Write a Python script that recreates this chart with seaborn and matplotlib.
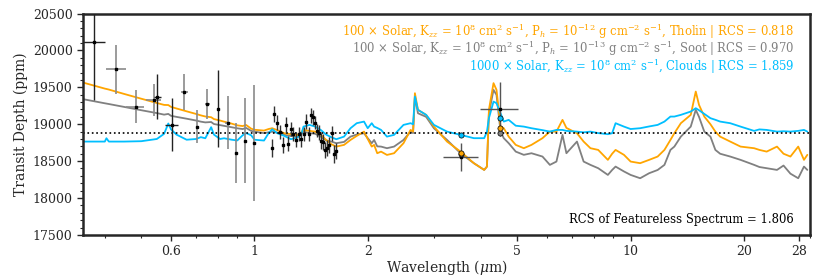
import numpy as np
import matplotlib
matplotlib.use("Agg")
import matplotlib.pyplot as plt
import matplotlib.ticker as mticker
import seaborn as sns

# model spectra (wavelength in micron, transit depth in ppm)
wave = [0.35, 0.40, 0.404, 0.41, 0.45, 0.50, 0.55, 0.575, 0.59, 0.60, 0.62, 0.66, 0.70, 0.72, 0.74,
        0.767, 0.78, 0.81, 0.83, 0.87, 0.90, 0.93, 0.95, 0.98, 1.00, 1.06, 1.09, 1.114, 1.15, 1.20,
        1.25, 1.30, 1.33, 1.35, 1.40, 1.45, 1.50, 1.55, 1.60, 1.65, 1.73, 1.80, 1.87, 1.955, 2.00,
        2.05, 2.08, 2.12, 2.17, 2.25, 2.35, 2.49, 2.60, 2.64, 2.67, 2.72, 2.86, 3.00, 3.25, 3.53,
        3.83, 4.08, 4.15, 4.20, 4.32, 4.40, 4.51, 4.60, 4.74, 4.95, 5.20, 5.45, 5.83, 6.10, 6.35,
        6.59, 6.75, 7.20, 7.50, 7.82, 8.20, 8.70, 8.93, 9.12, 9.60, 10.0, 10.6, 11.2, 11.8, 12.3,
        12.76, 13.07, 13.6, 14.45, 14.9, 15.2, 15.7, 16.3, 16.8, 17.3, 18.4, 19.6, 21.3, 22.0, 23.0,
        24.5, 25.5, 26.6, 27.9, 28.9, 29.5]
tholin = [19565, 19483, 19478, 19470, 19411, 19346, 19288, 19262, 19260, 19235, 19214, 19175, 19139, 19120, 19105,
          19095, 19070, 19050, 19035, 19008, 18985, 18975, 18990, 18940, 18925, 18914, 18935, 18946, 18920, 18878,
          18865, 18856, 18890, 18923, 18910, 18900, 18856, 18790, 18730, 18697, 18720, 18787, 18842, 18900, 18800,
          18697, 18720, 18607, 18629, 18584, 18607, 18743, 18923, 18900, 19421, 19195, 19127, 18968, 18765, 18629,
          18472, 18381, 18426, 19195, 19557, 19466, 18968, 18946, 18832, 18720, 18675, 18720, 18811, 18900, 18900,
          19059, 18950, 18878, 18765, 18675, 18652, 18517, 18600, 18652, 18585, 18494, 18472, 18517, 18562, 18652,
          18787, 18878, 19014, 19127, 19443, 19262, 19104, 19000, 18900, 18832, 18765, 18697, 18675, 18652, 18629,
          18697, 18600, 18562, 18697, 18517, 18585]
soot = [19340, 19284, 19280, 19274, 19235, 19190, 19151, 19130, 19140, 19114, 19100, 19075, 19050, 19035, 19025,
        19030, 19003, 18988, 18978, 18959, 18945, 18935, 18950, 18910, 18900, 18880, 18890, 18900, 18885, 18856,
        18840, 18833, 18870, 18900, 18880, 18870, 18833, 18780, 18765, 18743, 18760, 18832, 18860, 18878, 18811,
        18743, 18787, 18700, 18697, 18675, 18697, 18787, 18900, 18880, 19375, 19149, 19100, 18945, 18787, 18607,
        18472, 18381, 18426, 19149, 19466, 19398, 18900, 18811, 18743, 18629, 18585, 18607, 18562, 18449, 18494,
        18856, 18607, 18765, 18494, 18449, 18404, 18313, 18380, 18426, 18360, 18313, 18268, 18336, 18380, 18449,
        18652, 18697, 18832, 18968, 19195, 19100, 18900, 18832, 18652, 18600, 18562, 18517, 18449, 18420, 18404,
        18381, 18440, 18330, 18268, 18426, 18381]
clouds = [18765, 18765, 18810, 18765, 18765, 18770, 18800, 18870, 19010, 18930, 18860, 18790, 18800, 18825, 18810,
          18960, 18860, 18800, 18810, 18790, 18780, 18850, 18880, 18850, 18790, 18779, 18878, 18932, 18878, 18842,
          18797, 18820, 18856, 18968, 18991, 18968, 18923, 18860, 18824, 18797, 18832, 18946, 19014, 19036, 18946,
          19014, 18968, 18950, 18923, 18832, 18856, 18991, 19014, 19000, 19375, 19195, 19127, 18991, 18900, 18856,
          18811, 18811, 18900, 19082, 19307, 19285, 19149, 19036, 19059, 18980, 18968, 18946, 18920, 18900, 18923,
          18923, 18910, 18900, 18890, 18900, 18880, 18865, 18878, 19014, 18968, 18935, 18946, 18970, 18991, 19036,
          19104, 19104, 19127, 19172, 19217, 19190, 19140, 19082, 19060, 19036, 19014, 18968, 18910, 18930, 18923,
          18900, 18905, 18900, 18910, 18923, 18900]
flat_depth = 18880

# observed points: black error bars
obs_k_wave = [0.375, 0.552, 0.603, 0.799]
obs_k_depth = [20112, 19375, 18991, 19212]
obs_k_yerr = [790, 305, 360, 525]
obs_k_xerr = [0.025, 0.012, 0.025, 0.0]

# observed points: grey error bars
obs_g_wave = [0.429, 0.483, 0.539, 0.651, 0.702, 0.750, 0.848, 0.894, 0.944, 0.994]
obs_g_depth = [19746, 19239, 19330, 19439, 18964, 19272, 19023, 18608, 18774, 18743]
obs_g_yerr = [330, 225, 215, 245, 225, 205, 355, 405, 575, 790]
obs_g_xerr = [0.027, 0.027, 0.025, 0.014, 0.0, 0.012, 0.012, 0.0, 0.0, 0.0]

# dense near-IR points
nir_wave = [1.112, 1.130, 1.149, 1.167, 1.189, 1.211, 1.229, 1.247, 1.268, 1.290, 1.314, 1.330, 1.353, 1.370,
            1.392, 1.412, 1.430, 1.451, 1.468, 1.483, 1.503, 1.522, 1.541, 1.560, 1.578, 1.604, 1.625, 1.652]
nir_depth = [18676, 19140, 19023, 18893, 18720, 18987, 18734, 18937, 18869, 18788, 18869, 18797, 18869, 19032,
             18869, 19122, 19095, 19023, 18914, 18887, 18774, 18760, 18652, 18683, 18716, 18878, 18598, 18639]
nir_yerr = [120, 110, 100, 90, 110, 110, 100, 100, 90, 100, 100, 100, 90, 100,
            90, 100, 100, 90, 90, 100, 110, 110, 110, 110, 110, 100, 120, 110]

# Spitzer photometry
irac_wave = [3.55, 4.49]
irac_depth = [18562, 19208]
irac_yerr = [190, 370]
irac_xerr = [[0.38, 0.52], [0.37, 0.52]]

# binned models at the Spitzer bands
bin_tholin = [18616, 18955]
bin_soot = [18590, 18887]
bin_clouds = [18856, 19082]

c_tholin = "#FFA500"
c_soot = "#808080"
c_clouds = "#00BFFF"

sns.set_style("ticks")
plt.rcParams["font.family"] = ["DejaVu Serif"]
plt.rcParams["mathtext.fontset"] = "dejavuserif"

fig, ax = plt.subplots(figsize=(8.3, 2.77), dpi=100)
fig.subplots_adjust(left=0.1, right=0.976, top=0.951, bottom=0.152)

sns.lineplot(x=wave, y=soot, color=c_soot, lw=1.3, ax=ax, sort=False)
sns.lineplot(x=wave, y=tholin, color=c_tholin, lw=1.3, ax=ax, sort=False)
sns.lineplot(x=wave, y=clouds, color=c_clouds, lw=1.3, ax=ax, sort=False)
ax.axhline(flat_depth, color="k", ls=":", lw=1.2)

ax.errorbar(obs_g_wave, obs_g_depth, yerr=obs_g_yerr, xerr=obs_g_xerr, fmt="s", ms=1.8,
            color="k", ecolor="#8a8a8a", elinewidth=1.2, capsize=0, zorder=5)
ax.errorbar(obs_k_wave, obs_k_depth, yerr=obs_k_yerr, xerr=obs_k_xerr, fmt="s", ms=1.8,
            color="k", ecolor="#222222", elinewidth=1.0, capsize=0, zorder=5)
ax.errorbar(nir_wave, nir_depth, yerr=nir_yerr, fmt="s", ms=1.8,
            color="k", ecolor="#333333", elinewidth=1.0, capsize=0, zorder=5)
ax.errorbar(irac_wave, irac_depth, yerr=irac_yerr, xerr=irac_xerr, fmt="s", ms=1.8,
            color="k", ecolor="#555555", elinewidth=1.0, capsize=0, zorder=5)

for vals, col in [(bin_soot, c_soot), (bin_tholin, c_tholin), (bin_clouds, c_clouds)]:
    ax.scatter(irac_wave, vals, s=14, color=col, edgecolor="k", lw=0.5, zorder=6)

ax.set_xscale("log")
ax.set_xlim(0.35, 30)
ax.set_ylim(17500, 20500)
ax.xaxis.set_major_locator(mticker.FixedLocator([0.6, 1, 2, 5, 10, 20, 28]))
ax.xaxis.set_major_formatter(mticker.FixedFormatter(["0.6", "1", "2", "5", "10", "20", "28"]))
ax.xaxis.set_minor_locator(mticker.LogLocator(base=10, subs=np.arange(2, 10) * 0.1 * 10, numticks=20))
ax.xaxis.set_minor_formatter(mticker.NullFormatter())
ax.yaxis.set_major_locator(mticker.MultipleLocator(500))
ax.yaxis.set_minor_locator(mticker.MultipleLocator(100))
ax.tick_params(axis="both", which="major", labelsize=9, length=4, width=1)
ax.tick_params(axis="both", which="minor", length=2, width=0.8)
for sp in ax.spines.values():
    sp.set_linewidth(1.8)

ax.set_xlabel(r"Wavelength ($\mu$m)", fontsize=10, labelpad=0)
ax.set_ylabel("Transit Depth (ppm)", fontsize=10, labelpad=3)

lab_tholin = (r"100 $\times$ Solar, K$_{zz}$ = 10$^{8}$ cm$^{2}$ s$^{-1}$, P$_{h}$ = 10$^{-12}$ g cm$^{-2}$ s$^{-1}$, "
              r"Tholin | RCS = 0.818")
lab_soot = (r"100 $\times$ Solar, K$_{zz}$ = 10$^{8}$ cm$^{2}$ s$^{-1}$, P$_{h}$ = 10$^{-13}$ g cm$^{-2}$ s$^{-1}$, "
            r"Soot | RCS = 0.970")
lab_clouds = r"1000 $\times$ Solar, K$_{zz}$ = 10$^{8}$ cm$^{2}$ s$^{-1}$, Clouds | RCS = 1.859"
fs = 8.4
ax.text(0.978, 0.919, lab_tholin, color=c_tholin, fontsize=fs, ha="right", va="center", transform=ax.transAxes)
ax.text(0.978, 0.840, lab_soot, color=c_soot, fontsize=fs, ha="right", va="center", transform=ax.transAxes)
ax.text(0.978, 0.761, lab_clouds, color=c_clouds, fontsize=fs, ha="right", va="center", transform=ax.transAxes)
ax.text(0.978, 0.068, "RCS of Featureless Spectrum = 1.806", color="k", fontsize=fs,
        ha="right", va="center", transform=ax.transAxes)

fig.savefig("out.png", dpi=100)
